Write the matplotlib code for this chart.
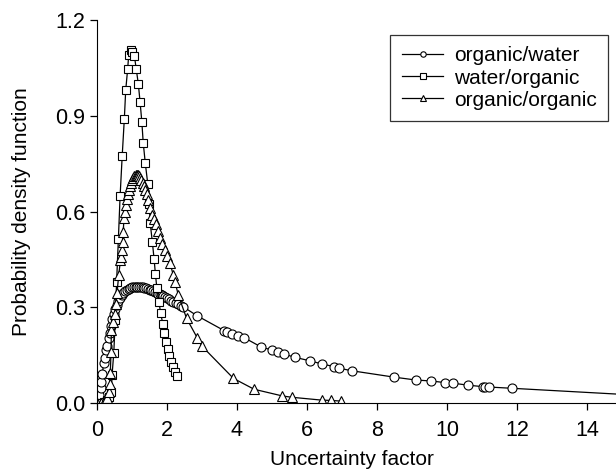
import numpy as np
import matplotlib
matplotlib.use("Agg")
import matplotlib.pyplot as plt

plt.rcParams['font.family'] = ['Liberation Sans', 'DejaVu Sans']

# organic/water (circles)
ow_x = [0.00, 0.03, 0.06, 0.10, 0.12, 0.15, 0.19, 0.22, 0.26, 0.29, 0.33, 0.36, 0.40,
        0.44, 0.48, 0.52, 0.56, 0.60, 0.65, 0.70, 0.75, 0.80, 0.85, 0.90, 0.95, 1.00,
        1.05, 1.10, 1.15, 1.20, 1.25, 1.30, 1.35, 1.40, 1.45, 1.50, 1.55, 1.60, 1.65,
        1.70, 1.75, 1.80, 1.85, 1.90, 1.95, 2.00, 2.06, 2.12, 2.18, 2.25, 2.32, 2.40,
        2.47, 2.85, 3.63, 3.72, 3.85, 4.04, 4.20, 4.68, 4.99, 5.18, 5.35, 5.66, 6.09,
        6.44, 6.78, 6.92, 7.28, 8.49, 9.11, 9.54, 9.94, 10.18, 10.59, 11.04, 11.10,
        11.20, 11.87, 16.0]
ow_y = [0.000, 0.009, 0.025, 0.046, 0.065, 0.090, 0.124, 0.140, 0.165, 0.180, 0.205,
        0.220, 0.240, 0.262, 0.280, 0.295, 0.308, 0.320, 0.330, 0.338, 0.345, 0.350,
        0.354, 0.357, 0.360, 0.362, 0.363, 0.364, 0.364, 0.364, 0.363, 0.362, 0.361,
        0.359, 0.357, 0.355, 0.353, 0.351, 0.348, 0.346, 0.343, 0.340, 0.337, 0.334,
        0.331, 0.328, 0.325, 0.321, 0.318, 0.314, 0.310, 0.305, 0.301, 0.274, 0.227,
        0.222, 0.217, 0.211, 0.205, 0.176, 0.166, 0.159, 0.153, 0.143, 0.132, 0.122,
        0.114, 0.109, 0.101, 0.081, 0.072, 0.069, 0.064, 0.062, 0.056, 0.051, 0.051,
        0.050, 0.046, 0.021]

# water/organic (squares)
wo_x = [0.00, 0.10, 0.20, 0.29, 0.35, 0.41, 0.43, 0.48, 0.52, 0.56, 0.61, 0.66, 0.72,
        0.78, 0.82, 0.876, 0.905, 0.96, 1.00, 1.07, 1.12, 1.18, 1.23, 1.28, 1.32,
        1.38, 1.45, 1.49, 1.52, 1.58, 1.63, 1.67, 1.71, 1.77, 1.82, 1.88, 1.92, 1.97,
        2.02, 2.07, 2.11, 2.16, 2.23, 2.28]
wo_y = [0.000, 0.001, 0.004, 0.009, 0.020, 0.035, 0.088, 0.158, 0.260, 0.380, 0.513,
        0.649, 0.775, 0.889, 0.980, 1.047, 1.090, 1.105, 1.100, 1.086, 1.047, 1.000,
        0.944, 0.882, 0.816, 0.751, 0.687, 0.625, 0.563, 0.506, 0.452, 0.403, 0.360,
        0.316, 0.281, 0.248, 0.218, 0.192, 0.168, 0.147, 0.128, 0.112, 0.098, 0.085]

# organic/organic (triangles)
oo_x = [0.00, 0.10, 0.20, 0.29, 0.33, 0.36, 0.38, 0.40, 0.41, 0.46, 0.50, 0.54, 0.57,
        0.62, 0.67, 0.68, 0.70, 0.73, 0.75, 0.77, 0.80, 0.83, 0.86, 0.89, 0.92, 0.95,
        0.98, 1.01, 1.04, 1.07, 1.10, 1.13, 1.16, 1.19, 1.22, 1.26, 1.30, 1.34, 1.38,
        1.42, 1.47, 1.52, 1.58, 1.63, 1.68, 1.74, 1.80, 1.87, 1.94, 2.01, 2.09, 2.18,
        2.23, 2.32, 2.56, 2.87, 2.99, 3.90, 4.49, 5.30, 5.56, 6.42, 6.69, 6.97]
oo_y = [0.000, 0.001, 0.004, 0.015, 0.035, 0.060, 0.093, 0.160, 0.229, 0.255, 0.280,
        0.310, 0.344, 0.400, 0.448, 0.457, 0.480, 0.506, 0.537, 0.580, 0.600, 0.620,
        0.640, 0.655, 0.668, 0.680, 0.690, 0.698, 0.705, 0.710, 0.713, 0.715, 0.714,
        0.710, 0.705, 0.698, 0.690, 0.679, 0.668, 0.655, 0.635, 0.612, 0.590, 0.575,
        0.560, 0.540, 0.516, 0.497, 0.478, 0.460, 0.438, 0.400, 0.380, 0.339, 0.265,
        0.203, 0.179, 0.077, 0.043, 0.022, 0.018, 0.009, 0.008, 0.006]

fig = plt.figure(figsize=(6.16, 4.71), dpi=100)
ax = fig.add_axes([0.1575, 0.1444, 0.852, 0.8131])

mk = dict(color='black', lw=0.9, markerfacecolor='white', markeredgecolor='black',
          markeredgewidth=0.8)
ax.plot(ow_x, ow_y, marker='o', ms=6.5, label='organic/water', **mk)
ax.plot(wo_x, wo_y, marker='s', ms=6.2, label='water/organic', **mk)
ax.plot(oo_x, oo_y, marker='^', ms=6.8, label='organic/organic', **mk)

ax.set_xlim(0, 15)
ax.set_ylim(0, 1.2)
ax.set_xticks(np.arange(0, 15, 2))
ax.set_yticks([0.0, 0.3, 0.6, 0.9, 1.2])
ax.set_yticklabels(['0.0', '0.3', '0.6', '0.9', '1.2'])
ax.spines['top'].set_visible(False)
ax.spines['right'].set_visible(False)
ax.tick_params(direction='out', length=5, width=0.9, labelsize=15.5)
ax.tick_params(axis='x', pad=7)
ax.set_xlabel('Uncertainty factor', fontsize=15, labelpad=7, x=(352 - 97) / 525)
ax.set_ylabel('Probability density function', fontsize=15, labelpad=17)

leg = ax.legend(loc='upper right', bbox_to_anchor=(608 / 616, 1 - 35 / 471),
                bbox_transform=fig.transFigure, fontsize=15, frameon=True,
                fancybox=False, edgecolor='black', handlelength=2.0,
                borderpad=0.55, labelspacing=0.15, handletextpad=0.5, markerscale=0.6,
                borderaxespad=0)
leg.get_frame().set_linewidth(0.9)

fig.savefig('out.png', dpi=100)
